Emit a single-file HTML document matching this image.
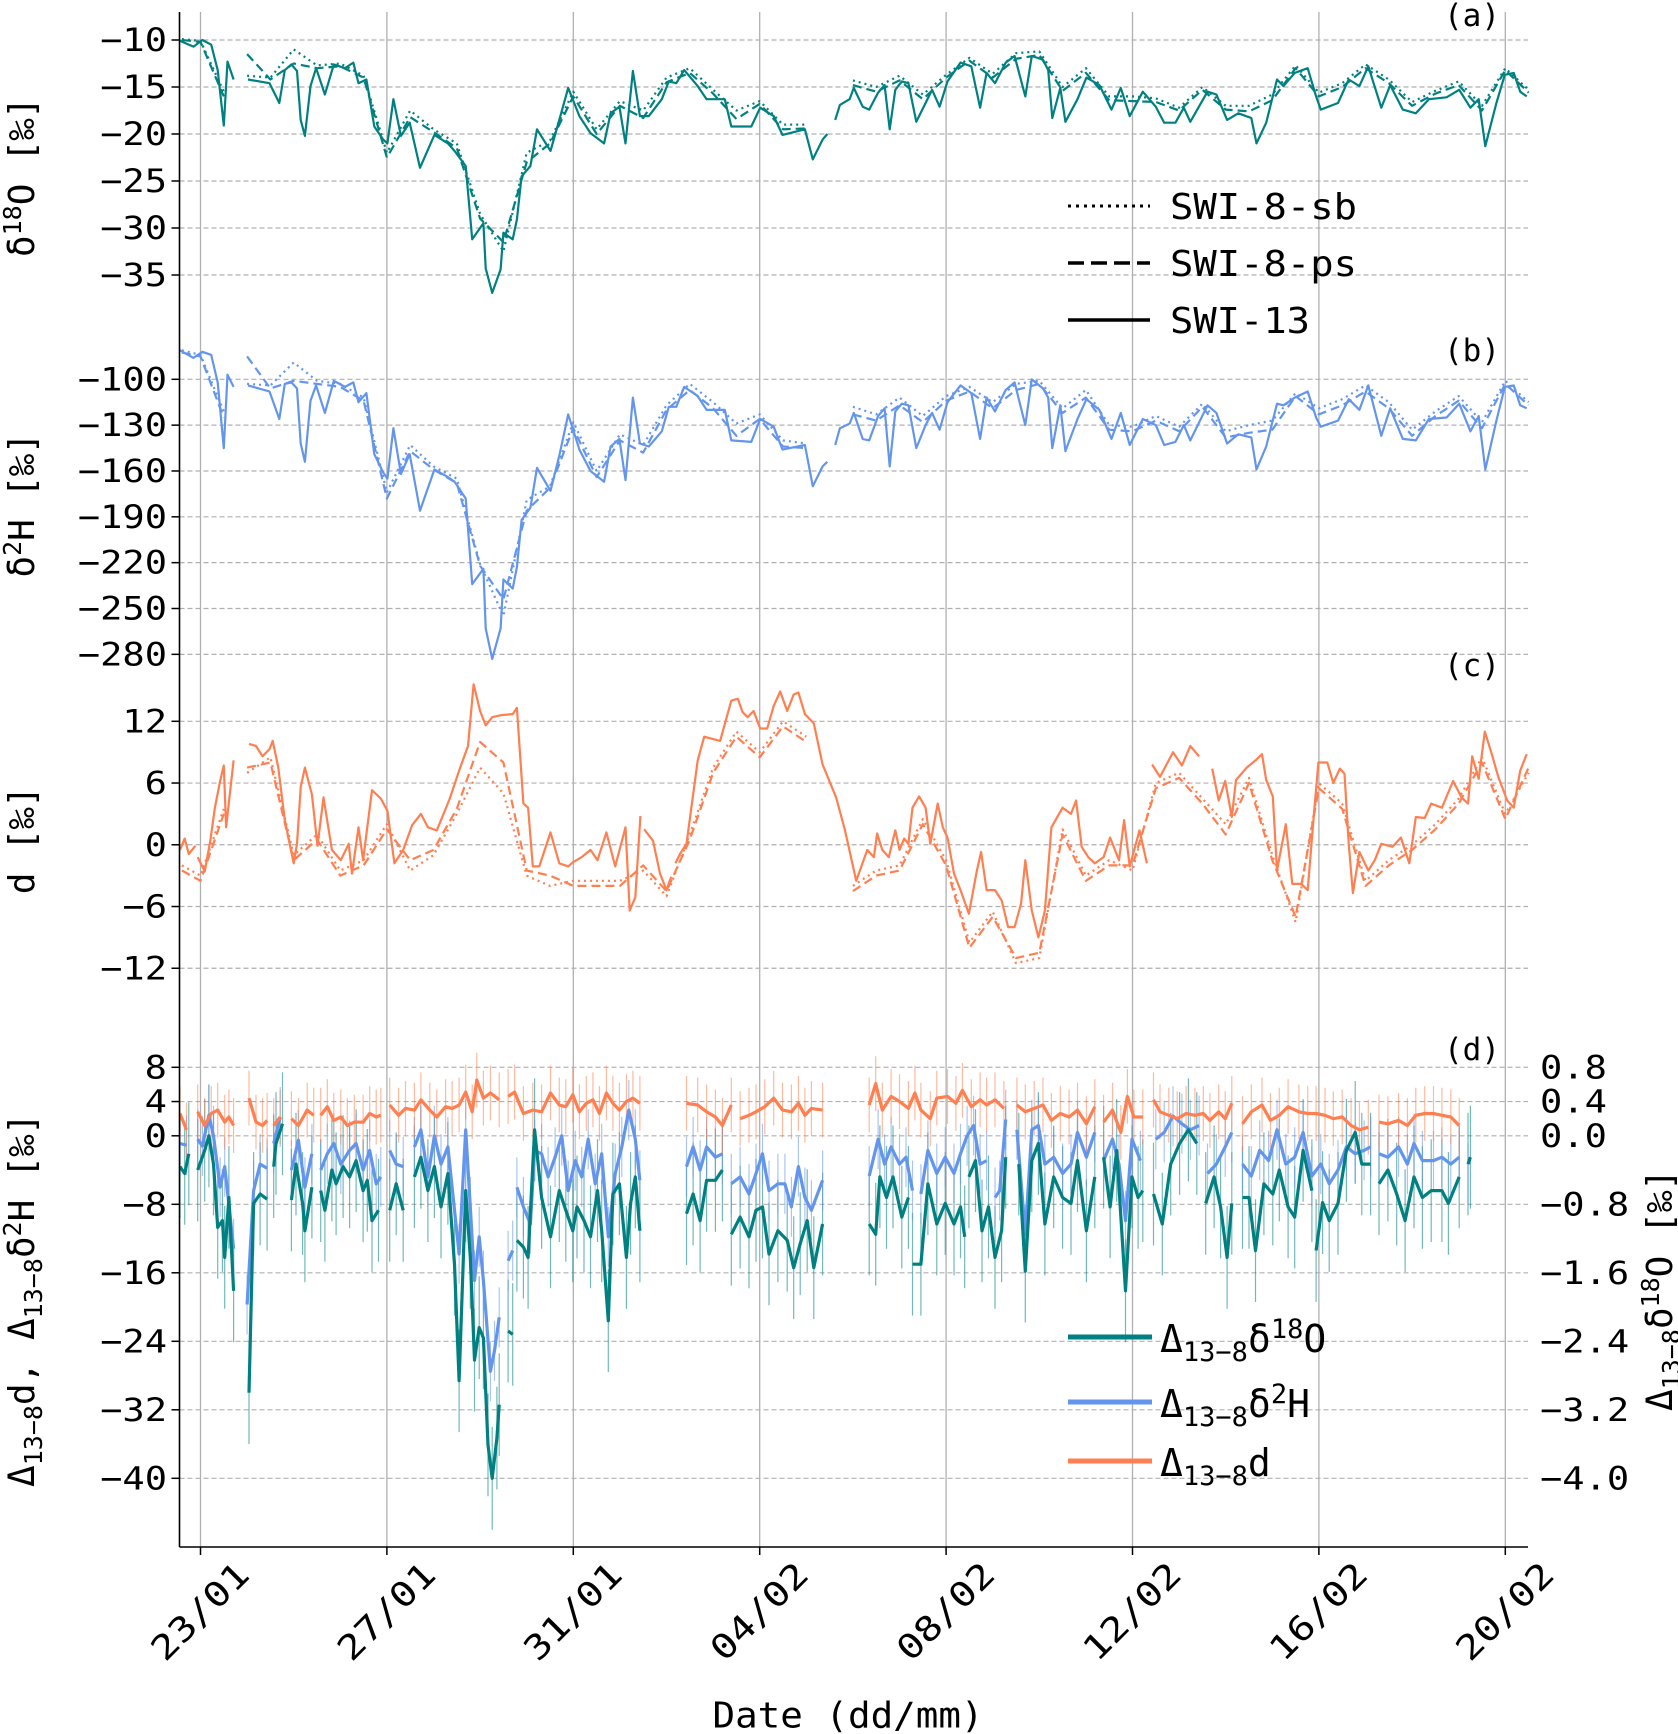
<!DOCTYPE html>
<html><head><meta charset="utf-8"><style>
html,body{margin:0;padding:0;background:#fff;}
svg{display:block;font-family:"DejaVu Sans Mono","Liberation Mono",monospace;}
</style></head><body>
<svg id="fig" width="1678" height="1734" viewBox="0 0 1678 1734" xmlns="http://www.w3.org/2000/svg">
<g id="grid"></g>
<g id="marks"></g>
<g id="axes"></g>
<g id="legA">
 <line x1="1068" y1="206" x2="1150" y2="206" stroke="#000" stroke-width="3" stroke-dasharray="3,5"/>
 <text x="1170" y="219" font-size="36" textLength="187" lengthAdjust="spacingAndGlyphs">SWI-8-sb</text>
 <line x1="1068" y1="263" x2="1150" y2="263" stroke="#000" stroke-width="3.5" stroke-dasharray="16,7"/>
 <text x="1170" y="276" font-size="36" textLength="187" lengthAdjust="spacingAndGlyphs">SWI-8-ps</text>
 <line x1="1068" y1="320" x2="1150" y2="320" stroke="#000" stroke-width="3.5"/>
 <text x="1170" y="333" font-size="36" textLength="140" lengthAdjust="spacingAndGlyphs">SWI-13</text>
</g>
<g id="legD">
 <line x1="1068" y1="1337" x2="1152" y2="1337" stroke="#008080" stroke-width="5"/>
 <text x="1160" y="1352" font-size="38">Δ<tspan font-size="27" dy="9">13−8</tspan><tspan dy="-9">δ</tspan><tspan font-size="27" dy="-14">18</tspan><tspan dy="14">O</tspan></text>
 <line x1="1068" y1="1402" x2="1152" y2="1402" stroke="#6495ED" stroke-width="5"/>
 <text x="1160" y="1417" font-size="38">Δ<tspan font-size="27" dy="9">13−8</tspan><tspan dy="-9">δ</tspan><tspan font-size="27" dy="-14">2</tspan><tspan dy="14">H</tspan></text>
 <line x1="1068" y1="1461" x2="1152" y2="1461" stroke="#FF7F50" stroke-width="5"/>
 <text x="1160" y="1476" font-size="38">Δ<tspan font-size="27" dy="9">13−8</tspan><tspan dy="-9">d</tspan></text>
</g>
</svg>
<script>
// ---------- DATA (days since 23/01) ----------
const xTickDays = [0,4,8,12,16,20,24,28];
const xTickLabels = ["23/01","27/01","31/01","04/02","08/02","12/02","16/02","20/02"];
const ticksA = [-10,-15,-20,-25,-30,-35];
const ticksB = [-100,-130,-160,-190,-220,-250,-280];
const ticksC = [12,6,0,-6,-12];
const ticksD = [8,4,0,-8,-16,-24,-32,-40];
const ticksDRight = [0.8,0.4,0.0,-0.8,-1.6,-2.4,-3.2,-4.0];

const tA13 = [-0.44,-0.15,0.04,0.23,0.37,0.50,0.58,0.71,0.85,1.02,1.48,1.69,1.81,1.95,2.07,2.15,2.24,2.36,2.48,2.67,2.86,3.10,3.28,3.39,3.56,3.73,3.92,4.01,4.14,4.30,4.49,4.71,5.02,5.31,5.45,5.69,5.83,6.07,6.12,6.26,6.44,6.50,6.70,6.79,6.89,7.08,7.22,7.51,7.70,7.89,8.13,8.37,8.66,8.80,8.99,9.12,9.28,9.43,9.62,9.90,10.05,10.21,10.38,10.67,10.86,11.25,11.39,11.82,12.01,12.30,12.49,12.97,13.14,13.35,13.45,13.55,13.62,13.72,13.93,14.02,14.21,14.35,14.54,14.68,14.79,14.91,15.05,15.19,15.36,15.56,15.70,15.86,16.03,16.31,16.54,16.73,16.87,17.05,17.28,17.47,17.70,17.84,18.08,18.19,18.28,18.45,18.56,18.82,19.01,19.29,19.55,19.75,19.94,20.22,20.50,20.68,20.92,21.10,21.24,21.61,21.80,22.03,22.27,22.55,22.66,22.87,23.10,23.24,23.48,23.76,23.94,24.04,24.41,24.64,24.87,25.06,25.34,25.53,25.80,26.08,26.36,26.74,27.01,27.25,27.43,27.57,27.81,27.99,28.18,28.32,28.46];
const vA13 = [-10.1,-10.7,-10,-10.5,-13.2,-19.1,-12.3,-14.2,null,-14.2,-14.6,-16.7,-13.2,-12.6,-13.3,-18.5,-20.2,-14.9,-13,-15.8,-12.6,-13,-12.4,-14.6,-14.2,-19.2,-20.6,-21,-16.3,-20.2,-18.8,-23.6,-20.1,-21,-21.8,-23.4,-31.2,-29.5,-34.3,-36.9,-34.4,-30.5,-31.2,-29.1,-24.5,-23.4,-19.5,-21.8,-18.5,-15.1,-18.1,-19.9,-21,-17.8,-17.1,-21,-13.3,-18.1,-18.1,-16.3,-14.4,-14.6,-13.2,-14.9,-16.3,-16.3,-19.2,-19.2,-17.2,-18.1,-20.1,-19.5,-22.7,-20.6,-20,null,-18.5,-16.9,-16.3,-15.1,-17.1,-17.4,-15.6,-14.8,-19.5,-15.3,-14.4,-14.6,-18.7,-16.7,-15.3,-17.1,-14.4,-12.4,-12.8,-17.2,-13.5,-14.6,-12.4,-11.7,-16.0,-11.7,-12.1,-13.2,-18.3,-15.1,-18.7,-16.3,-14.0,-14.8,-17.4,-15.1,-18.1,-15.5,-17.1,-18.8,-18.8,-17.2,-18.7,-15.5,-15.8,-18.5,-17.8,-18.3,-21,-18.8,-14.2,-14.9,-13.5,-13,-16,-17.4,-16.7,-14.2,-14.9,-12.8,-17.2,-14.8,-17.4,-17.8,-16.3,-16.1,-15.3,-17.2,-16.3,-21.3,-16.7,-13.7,-13.5,-15.5,-16.0];
const vB13 = [-81,-86,-82,-84,-102,-145,-97,-105,null,-104,-108,-126,-103,-102,-106,-142,-154,-114,-104,-122,-101,-105,-102,-115,-109,-149,-161,-165,-132,-162,-149,-186,-159,-164,-167,-178,-234,-224,-263,-283,-263,-231,-237,-223,-192,-184,-158,-173,-150,-123,-146,-160,-167,-144,-139,-166,-112,-142,-144,-134,-118,-118,-105,-111,-120,-120,-140,-141,-126,-131,-146,-143,-170,-157,-154,null,-143,-132,-129,-122,-139,-140,-124,-119,-157,-121,-116,-117,-145,-130,-122,-133,-115,-104,-109,-139,-112,-121,-107,-102,-130,-100,-106,-112,-145,-117,-147,-126,-113,-120,-139,-122,-143,-126,-130,-143,-141,-130,-140,-117,-122,-142,-136,-138,-159,-144,-116,-117,-112,-108,-125,-131,-127,-113,-120,-104,-137,-119,-139,-140,-126,-125,-116,-134,-124,-159,-127,-105,-104,-117,-119];

const t8 = [-0.4,0,0.5,0.8,1.0,1.5,2,2.5,3,3.5,4,4.5,5,5.5,6,6.5,7,7.5,8,8.5,9,9.5,10,10.5,11,11.5,12,12.5,13,13.5,14,14.5,15,15.5,16,16.5,17,17.5,18,18.5,19,19.5,20,20.5,21,21.5,22,22.5,23,23.5,24,24.5,25,25.5,26,26.5,27,27.5,28,28.5];
const vA8ps = [-10.0,-10.2,-16,null,-11.5,-14.2,-12.5,-13,-12.8,-14,-22.5,-18.2,-19.8,-21.5,-29,-31.5,-23,-21,-16,-20,-17,-18.3,-14.5,-13.5,-15.7,-18.4,-16.8,-19.5,-19.4,null,-14.8,-15.5,-14.3,-16.3,-14,-12.2,-14,-12,-11.6,-15.4,-13.5,-16.4,-16.5,-16.6,-17.5,-15.3,-17.4,-17.6,-16.4,-13,-16,-15,-13,-14.6,-17,-15.7,-14.8,-17.5,-13.2,-15.6];
const vA8sb = [-9.9,-10.1,-15.5,null,-13.8,-14,-11,-12.7,-12.5,-13.8,-22,-17.5,-19.5,-21,-28.5,-32.5,-22,-20.7,-15.5,-19.5,-16.5,-17.5,-14,-13,-15.3,-17.5,-16.5,-19,-19,null,-14.3,-15,-13.8,-15.8,-13.7,-11.9,-13.6,-11.4,-11.2,-15,-13,-16,-16,-16.2,-17.2,-15,-17,-17,-15.8,-12.7,-15.6,-14.6,-12.6,-14.2,-16.6,-15.4,-14.4,-17,-13,-15.3];
const vB8ps = [-82.5,-85,-125,null,-85,-106,-101,-103,-105,-114,-178,-147,-159,-168,-222,-244,-186,-171,-132,-164,-140,-148,-120,-107,-119,-137,-126,-144,-145,null,-123,-127,-117,-128,-114,-108,-119,-107,-103,-122,-112,-133,-134,-127,-134,-118,-138,-135,-133,-111,-123,-117,-108,-119,-137,-124,-114,-132,-103,-117];
const vB8sb = [-81,-84,-121,null,-103,-104,-89,-101,-103,-112,-174,-143,-157,-165,-221,-255,-179,-170,-128,-160,-136,-143,-117,-103,-115,-129,-123,-140,-142,null,-118,-123,-112,-124,-111,-105,-115,-103,-101,-119,-107,-130,-131,-124,-131,-116,-134,-130,-127,-109,-119,-113,-104,-115,-133,-121,-111,-128,-101,-115];
const vC8ps = [-2.5,-3.5,3,null,7.5,8,-1.5,0.5,-3,-2,1.5,-1.5,-0.5,3.5,10,8,-2.5,-3,-4,-4,-4,-2,-4.5,0.5,7,10.5,8.5,11.5,10,null,-4.5,-3,-2.5,2,-2,-10,-7,-11,-10.5,1,-3.5,-2,-2,5.5,6.5,4,1,6,-1.5,-7,5.5,3.5,-4,-2,-0.5,1.5,4,8,2.5,7.5];
const vC8sb = [-2,-3,3.5,null,7,8.5,-1,1,-2.5,-1.5,2,-2.5,-1,3,7.5,5,-3,-4,-3.5,-3.5,-3.5,-2.5,-5,1,7.5,11,9,12,10.5,null,-4,-2.5,-2,2.5,-1.5,-9.5,-6.5,-11.5,-11,1.5,-3,-1.5,-2.5,6,7,4.5,2,6.5,-1,-7.5,6,4,-3.5,-1.5,0,2,4.5,8.5,3,7];

const tC13 = [-0.44,-0.34,-0.25,-0.11,-0.08,-0.06,0.09,0.21,0.31,0.42,0.50,0.55,0.71,0.85,1.04,1.19,1.33,1.48,1.55,1.67,1.81,2.0,2.07,2.15,2.24,2.39,2.51,2.64,2.82,3.01,3.18,3.25,3.39,3.49,3.68,3.87,4.01,4.16,4.35,4.54,4.73,4.88,5.07,5.35,5.55,5.74,5.86,6.0,6.12,6.26,6.46,6.70,6.79,6.93,7.03,7.13,7.27,7.51,7.70,7.89,7.99,8.18,8.37,8.52,8.71,8.90,9.12,9.21,9.33,9.44,9.48,9.52,9.71,9.86,10.0,10.10,10.15,10.19,10.29,10.43,10.67,10.81,11.15,11.39,11.53,11.63,11.74,11.87,12.01,12.16,12.30,12.44,12.59,12.73,12.83,12.97,13.16,13.35,13.64,13.83,14.07,14.31,14.45,14.52,14.63,14.77,14.91,15.0,15.10,15.19,15.28,15.42,15.56,15.66,15.82,15.93,16.03,16.17,16.31,16.49,16.66,16.75,16.87,17.05,17.19,17.33,17.47,17.61,17.70,17.84,17.98,18.12,18.26,18.50,18.68,18.79,18.91,19.05,19.19,19.38,19.52,19.71,19.82,19.94,20.15,20.31,20.37,20.42,20.59,20.87,21.06,21.24,21.43,21.5,21.71,21.85,21.99,22.13,22.22,22.45,22.64,22.78,22.87,23.01,23.10,23.29,23.43,23.62,23.76,23.90,23.99,24.18,24.31,24.45,24.55,24.64,24.73,24.87,25.06,25.20,25.34,25.58,25.76,25.94,26.08,26.27,26.41,26.64,26.88,27.06,27.20,27.29,27.43,27.56,27.71,27.85,28.04,28.18,28.32,28.46];
const vC13 = [-0.5,0.6,-0.9,-0.1,null,-1.2,-2.6,0.4,3.6,6.2,7.7,1.7,8.2,null,9.8,9.6,8.6,9.3,10.1,7.5,2.4,-1.8,0.1,5.6,7.5,4.9,-0.1,4.6,-0.5,-1.5,0.1,-2.8,1.7,-1.5,5.3,4.5,3.3,-1.8,-0.5,1.9,3.0,1.7,1.4,4.5,7.2,9.6,15.6,13,11.6,12.4,12.6,12.7,13.3,4,3.6,-2.1,-2.1,1.2,-1.8,-2.1,-1.7,-1.2,-0.5,-1.5,1.2,-2.1,1.7,-6.4,-5.1,2.8,null,1.5,0.4,-2.8,-4.4,-3.1,null,-1.8,-0.9,0.1,8.2,10.5,10.1,14,14.2,12.9,12.4,13,11.3,11.3,13.5,14.9,13,14.6,14.8,12.7,11.8,7.8,4.6,1.4,-3.5,-0.5,-1.2,1.1,-0.5,-1.2,1.4,-0.5,0.6,0.1,3.6,4.7,3.6,0.1,4,1.7,0.7,-2.8,-4.4,-6.7,-2.5,-0.7,-4.4,-4.4,-5.4,-8,-8,-5.7,-1.5,-6.4,-9,-6.4,1.7,3.6,3.0,4.3,-0.2,-1.2,-1.8,-1.2,0.7,-1.5,2.4,-2.1,1.4,-1.8,null,7.8,6.6,9,7.7,9.6,8.6,null,7.4,4.3,6.2,2.7,6.3,7.5,8.2,8.8,6.3,4.7,-2.5,2.0,-3.8,-3.8,-4.4,3.3,8.0,8.0,6.0,7.4,6.9,0.1,-4.7,-0.7,-2.5,-1.5,0.1,-0.2,0.7,-1.8,2.7,2.6,4,3.6,6.2,4.6,4,8.6,6.4,11,8.8,6.6,4.3,3.6,7.2,8.8];

const tDd = [-0.44,-0.30,-0.1,-0.06,0.09,0.23,0.37,0.52,0.61,0.71,0.9,1.04,1.19,1.33,1.43,1.5,1.57,1.71,1.85,1.95,2.10,2.29,2.43,2.5,2.58,2.72,2.86,3.01,3.15,3.30,3.49,3.63,3.77,3.87,3.95,4.06,4.25,4.40,4.59,4.73,4.92,5.07,5.26,5.40,5.55,5.69,5.83,5.93,6.07,6.22,6.41,6.5,6.60,6.74,6.93,7.13,7.32,7.51,7.70,7.84,7.99,8.13,8.28,8.42,8.56,8.71,8.85,8.99,9.14,9.28,9.43,9.5,10.43,10.67,10.86,11.05,11.20,11.39,11.48,11.58,11.77,11.92,12.11,12.30,12.49,12.68,12.83,12.97,13.11,13.35,13.5,14.35,14.49,14.63,14.82,15.0,15.19,15.33,15.46,15.66,15.80,16.03,16.21,16.35,16.54,16.73,16.87,17.05,17.24,17.38,17.52,17.70,17.89,18.08,18.26,18.45,18.64,18.82,19.01,19.19,19.28,19.38,19.57,19.75,19.89,20.03,20.22,20.33,20.45,20.59,20.78,20.96,21.15,21.34,21.52,21.66,21.85,21.99,22.13,22.25,22.36,22.55,22.78,22.96,23.15,23.34,23.57,23.76,23.94,24.13,24.31,24.50,24.69,24.87,25.06,25.18,25.29,25.48,25.71,25.90,26.08,26.27,26.46,26.64,26.83,27.01];
const vDd = [2.6,0.7,null,2.8,1.2,2.6,3.0,1.6,2.2,1.2,null,4.4,1.6,1.2,1.8,null,1.2,2.2,null,2,1.2,3,2.4,null,2.4,3.4,1.8,2.2,1.2,1.6,1.6,2.6,2.2,2.4,null,3.6,2.4,3.2,3,4.2,3,2.2,3.4,3.2,3.6,5.1,2.8,6.5,4.4,5,4.2,null,4.6,5.1,2.6,3,2.8,5,3.6,3.4,4.8,2.8,3.8,4.2,2.6,5,3.8,3,4,4.4,3.8,null,3.8,3.6,2.8,2.2,1.2,3.6,null,2,2.4,2.8,3.4,4.4,3,2.8,3.8,2.4,3.2,3,null,3.6,6.1,3,4.6,4,3.2,5,3,2,4.4,4.6,3.8,5.3,3.4,4.2,3.6,4.2,3.2,null,3.6,2.8,3.2,3.6,1.8,2.6,2.2,3,1.4,3.4,null,1.6,3,0.4,4.6,2.2,2.2,null,4.2,2.8,2.4,2,2.6,2.4,2.6,1.8,2.8,2,3.8,null,1.4,2.8,3.6,1.8,2.4,3.4,2.8,2.6,2.6,2.4,2,2.2,1.2,0.7,1,null,1.6,1.4,1.8,1.2,2.4,2.6,2.6,2.4,2.2,1.2];

const tDh = [-0.44,-0.30,-0.1,-0.06,0.04,0.18,0.28,0.42,0.52,0.61,0.71,0.85,1.0,1.14,1.28,1.43,1.5,1.57,1.71,1.85,1.95,2.10,2.24,2.39,2.5,2.58,2.72,2.86,3.01,3.20,3.34,3.49,3.63,3.77,3.87,3.95,4.06,4.20,4.35,4.47,4.59,4.73,4.88,5.02,5.16,5.31,5.55,5.69,5.79,5.88,5.98,6.07,6.22,6.31,6.41,6.5,6.60,6.70,6.75,6.79,6.93,7.08,7.17,7.32,7.46,7.61,7.75,7.89,8.04,8.18,8.32,8.47,8.61,8.75,8.90,9.04,9.19,9.33,9.43,9.6,10.43,10.57,10.72,10.86,11.05,11.20,11.3,11.39,11.58,11.77,11.92,12.06,12.20,12.39,12.54,12.68,12.83,12.97,13.11,13.35,13.5,14.35,14.54,14.68,14.82,15.0,15.14,15.28,15.37,15.46,15.61,15.80,15.98,16.17,16.31,16.45,16.59,16.73,16.87,16.96,17.05,17.15,17.28,17.4,17.52,17.70,17.84,17.98,18.12,18.31,18.50,18.68,18.82,19.01,19.19,19.28,19.38,19.57,19.71,19.85,19.99,20.17,20.3,20.50,20.68,20.87,21.06,21.24,21.43,21.52,21.61,21.80,21.99,22.13,22.25,22.36,22.55,22.73,22.92,23.10,23.29,23.48,23.66,23.85,24.04,24.22,24.41,24.59,24.78,24.97,25.11,25.2,25.29,25.48,25.71,25.90,26.04,26.22,26.46,26.64,26.83,27.01,27.1,27.20];
const vDh = [-0.9,-1.1,null,-0.4,-1.2,2.4,0,-6,-3.6,-8,-13.2,null,-19.7,-6.4,-3.3,-3.8,null,-0.9,2.2,null,-4,-0.5,-6,-2.1,null,-4,-2.1,-0.9,-3.3,-1.7,-0.9,-4,-1.7,-5.6,-4.8,null,-1.7,-3.3,-3.6,null,-1.3,0.7,-4.8,0,-3.3,-1.3,-13.8,0.7,-8.3,-16.9,-11.8,-16.9,-27.5,-25.1,-21.2,null,-14.6,-13.4,null,-6,-8.3,-10.3,-1.7,-2.1,-4.8,-2.5,0,-6.4,-2.9,-4.8,-0.4,-5.6,-2.1,-11.8,-4.4,-1.3,3,-0.4,-5.2,null,-3.6,-1.3,-4,-1.3,-2.5,-2.1,null,-5.6,-4.8,-6.8,-4.4,-2.1,-6.4,-5.6,-5.6,-8.3,-3.6,-7.2,-8.7,-5.2,null,-4.7,-0.4,-3.3,-1.3,-3.3,-2.5,-6.4,null,-6.8,-1.7,-4.4,-2.5,-4.4,-2.1,0,1.2,-3.3,-2.9,null,-7.2,-6.4,1.9,null,0.7,-11.5,0.7,1.2,-3.3,-2.5,-4.4,-3.3,0.4,-2.5,0.4,null,-2.9,-0.4,-3.3,-9.9,-0.4,-2.9,null,-0.4,0.4,2.3,1.4,0.7,1.2,null,-4.4,-3.3,-1.3,0.4,null,-3.3,-4.7,-1.7,-2.9,0.7,-3.3,-2.5,0.4,-4.7,-3.3,-5.6,-4,-1.3,-2.1,-1.7,-1.3,null,-2.1,-2.5,-1.3,-3.3,-0.9,-2.9,-2.9,-2.5,-3.3,-2.5,null,-4.4];

const tDo = [-0.44,-0.34,-0.25,-0.1,-0.06,0.09,0.18,0.28,0.37,0.47,0.52,0.61,0.71,0.85,1.04,1.14,1.28,1.43,1.5,1.57,1.62,1.76,1.85,1.95,2.05,2.19,2.24,2.39,2.5,2.58,2.67,2.82,2.91,3.06,3.20,3.34,3.49,3.58,3.68,3.82,3.95,4.06,4.20,4.35,4.47,4.59,4.73,4.88,5.02,5.16,5.31,5.45,5.55,5.69,5.79,5.88,5.98,6.07,6.17,6.26,6.36,6.41,6.5,6.60,6.70,6.75,6.79,6.93,7.03,7.17,7.32,7.51,7.70,7.84,7.99,8.08,8.23,8.37,8.52,8.61,8.75,8.85,8.99,9.14,9.23,9.33,9.43,9.6,10.43,10.57,10.72,10.86,11.05,11.20,11.3,11.39,11.58,11.77,11.92,12.06,12.20,12.39,12.59,12.73,12.87,13.02,13.16,13.35,13.5,14.35,14.49,14.58,14.72,14.86,15.05,15.19,15.24,15.28,15.46,15.61,15.80,15.98,16.17,16.31,16.40,16.45,16.49,16.63,16.77,16.91,17.05,17.19,17.28,17.4,17.56,17.70,17.84,17.98,18.12,18.31,18.50,18.68,18.82,19.01,19.19,19.28,19.38,19.52,19.66,19.85,19.99,20.12,20.22,20.33,20.45,20.64,20.82,21.01,21.20,21.38,21.5,21.57,21.75,21.89,22.03,22.13,22.25,22.36,22.50,22.64,22.82,23.01,23.15,23.34,23.48,23.66,23.85,23.9,23.94,24.08,24.22,24.41,24.59,24.78,24.92,25.11,25.2,25.29,25.48,25.67,25.85,26.04,26.22,26.41,26.64,26.78,27.01,27.1,27.20,27.25];
const vDo = [-0.36,-0.44,-0.21,null,-0.40,-0.17,0,-0.33,-1.07,-0.99,-1.42,-0.72,-1.81,null,-3.0,-0.79,-0.68,-0.74,null,-0.36,-0.09,0.14,null,-0.75,-0.33,-0.79,-1.11,-0.60,null,-0.64,-0.87,-0.40,-0.56,-0.36,-0.48,-0.29,-0.64,-0.52,-0.99,-0.87,null,-0.87,-0.56,-0.87,null,-0.48,-0.25,-0.64,-0.36,-0.83,-0.44,-1.50,-2.86,-0.64,-1.42,-2.62,-2.24,-2.36,-3.61,-4.0,-3.53,-3.14,null,-2.28,-2.32,null,-1.22,-1.30,-1.42,0.07,-0.72,-1.18,-0.64,-0.87,-1.11,-0.83,-0.99,-1.18,-0.64,-1.11,-2.16,-0.68,-0.56,-1.42,-0.79,-0.48,-1.11,null,-0.91,-0.68,-0.99,-0.52,-0.52,-0.40,null,-1.15,-0.95,-1.18,-0.87,-0.83,-1.38,-1.11,-1.22,-1.54,-1.26,-0.99,-1.54,-1.03,null,-1.03,-1.15,-0.48,-0.72,-0.48,-0.95,-0.72,null,-1.50,-1.50,-0.56,-1.03,-0.79,-1.03,-0.83,-1.18,null,-0.48,-0.29,-1.11,-0.83,-1.42,-1.11,-0.25,null,-0.33,-1.58,-0.29,-0.09,-1.03,-0.48,-0.72,-0.79,-0.29,-1.11,-0.48,null,-0.25,-0.83,-0.17,-1.81,-0.48,-0.72,-0.64,null,-0.68,-1.03,-0.33,-0.09,0.07,-0.09,null,-0.79,-0.48,-0.83,-1.42,-0.79,null,-0.72,-0.72,-1.34,-0.56,-0.68,-0.40,-0.83,-0.95,-0.17,-0.64,null,-1.34,-0.78,-0.99,-0.79,-0.17,0.04,-0.33,-0.33,null,-0.56,-0.40,-0.68,-0.99,-0.48,-0.72,-0.64,-0.64,-0.79,-0.48,null,-0.33,-0.25];
const errDd = [3.2];
const errDh = [3.5];
const errDo = [0.6];

// ---------- SCALES ----------
const NS = "http://www.w3.org/2000/svg";
const X0 = 179.5, X1 = 1528, YT = 12, YB = 1547;
function xS(d){ return 200.5 + 46.6*d; }
function yA(v){ return 40 + (-10 - v)*9.4; }
function yB(v){ return 379.3 + (-100 - v)*1.528; }
function yC(v){ return 721.3 + (12 - v)*10.29; }
function yD(v){ return 1067.3 + (8 - v)*8.5625; }
function yDR(v){ return yD(v*10); }

function mk(tag, attrs, parent){
  const e = document.createElementNS(NS, tag);
  for (const k in attrs) e.setAttribute(k, attrs[k]);
  parent.appendChild(e);
  return e;
}
const grid = document.getElementById('grid');
const marks = document.getElementById('marks');
const axes = document.getElementById('axes');

xTickDays.forEach((d,i)=>{
  const x = xS(d);
  const g = mk('line',{x1:x,y1:YT,x2:x,y2:YB,stroke:'#b0b0b0','stroke-width':1.3},grid);
  
  
  const tk = mk('line',{x1:x,y1:YB,x2:x,y2:YB+8,stroke:'#000','stroke-width':1.5},axes);
  
  
  const t = mk('text',{x:x,y:1612,'font-size':34,'text-anchor':'middle','dominant-baseline':'central',
    textLength:122,lengthAdjust:'spacingAndGlyphs',transform:`rotate(-45 ${x} 1612)`},axes);
  t.textContent = xTickLabels[i];
  
  
});

function yTicks(ticks, yf){
  ticks.forEach((v)=>{
    const y = yf(v);
    const g = mk('line',{x1:X0,y1:y,x2:X1,y2:y,stroke:'#b0b0b0','stroke-width':1.2,'stroke-dasharray':'5,3'},grid);
    
    
    const tk = mk('line',{x1:X0-8,y1:y,x2:X0,y2:y,stroke:'#000','stroke-width':1.5},axes);
    
    
    const s = (v<0?'−':'') + String(Math.abs(v));
    const t = mk('text',{x:167,y:y,'font-size':32,'text-anchor':'end','dominant-baseline':'central',
      textLength:s.length*22.3,lengthAdjust:'spacingAndGlyphs'},axes);
    t.textContent = s;
    
    
  });
}
yTicks(ticksA, yA);
yTicks(ticksB, yB);
yTicks(ticksC, yC);
yTicks(ticksD, yD);
ticksDRight.forEach(v=>{
  const y = yDR(v);
  const s = (v<0?'−':'') + Math.abs(v).toFixed(1);
  const t = mk('text',{x:1540,y:y,'font-size':32,'text-anchor':'start','dominant-baseline':'central',
    textLength:s.length*22.3,lengthAdjust:'spacingAndGlyphs'},axes);
  t.textContent = s;
  
  
});

let sp = mk('line',{x1:X0,y1:YT,x2:X0,y2:YB,stroke:'#000','stroke-width':1.6},axes);


sp = mk('line',{x1:X0,y1:YB,x2:X1,y2:YB,stroke:'#000','stroke-width':1.6},axes);



function pathD(ts, vs, yf){
  let d = '', pen = false;
  for (let i=0;i<ts.length;i++){
    const v = vs[i];
    if (v===null || v===undefined){ pen=false; continue; }
    d += (pen?'L':'M') + xS(ts[i]).toFixed(1) + ',' + yf(v).toFixed(1);
    pen = true;
  }
  return d;
}
function line(ts, vs, yf, color, width, dash, name){
  const p = mk('path',{d:pathD(ts,vs,yf),fill:'none',stroke:color,'stroke-width':width,'stroke-linejoin':'round'},marks);
  if (dash) p.setAttribute('stroke-dasharray', dash);
  
  
}
function errbars(ts, vs, yf, err, color, name){
  let d='';
  for (let i=0;i<ts.length;i++){
    const v = vs[i]; if (v===null) continue;
    const x = xS(ts[i]).toFixed(1);
    d += `M${x},${yf(v+err[0]).toFixed(1)}L${x},${yf(v-err[0]).toFixed(1)}`;
  }
  const p = mk('path',{d:d,stroke:color,'stroke-width':1.2,'stroke-opacity':0.55,fill:'none'},marks);
  
  
}
const TEAL='#008080', BLUE='#6495ED', ORANGE='#FF7F50';
line(t8, vA8sb, yA, TEAL, 2.2, '2,4', 'd18o-swi8sb-line');
line(t8, vA8ps, yA, TEAL, 2.2, '9,5', 'd18o-swi8ps-line');
line(tA13, vA13, yA, TEAL, 2.2, null, 'd18o-swi13-line');
line(t8, vB8sb, yB, BLUE, 2.2, '2,4', 'd2h-swi8sb-line');
line(t8, vB8ps, yB, BLUE, 2.2, '9,5', 'd2h-swi8ps-line');
line(tA13, vB13, yB, BLUE, 2.2, null, 'd2h-swi13-line');
line(t8, vC8sb, yC, ORANGE, 2.2, '2,4', 'dexcess-swi8sb-line');
line(t8, vC8ps, yC, ORANGE, 2.2, '9,5', 'dexcess-swi8ps-line');
line(tC13, vC13, yC, ORANGE, 2.2, null, 'dexcess-swi13-line');
errbars(tDo, vDo, yDR, errDo, TEAL, 'delta-d18o-errorbars');
errbars(tDh, vDh, yD, errDh, BLUE, 'delta-d2h-errorbars');
errbars(tDd, vDd, yD, errDd, ORANGE, 'delta-d-errorbars');
line(tDh, vDh, yD, BLUE, 3.2, null, 'delta-d2h-line');
line(tDo, vDo, yDR, TEAL, 3.2, null, 'delta-d18o-line');
line(tDd, vDd, yD, ORANGE, 3.2, null, 'delta-d-line');

function txt(html, attrs, name){
  const t = mk('text', attrs, axes);
  t.innerHTML = html;
  
  
  return t;
}
txt('(a)',{x:1500,y:16,'font-size':31,'text-anchor':'end','dominant-baseline':'central'},'panel-label-a');
txt('(b)',{x:1500,y:351,'font-size':31,'text-anchor':'end','dominant-baseline':'central'},'panel-label-b');
txt('(c)',{x:1500,y:666,'font-size':31,'text-anchor':'end','dominant-baseline':'central'},'panel-label-c');
txt('(d)',{x:1500,y:1050,'font-size':31,'text-anchor':'end','dominant-baseline':'central'},'panel-label-d');
txt('Date (dd/mm)',{x:848,y:1716,'font-size':36,'text-anchor':'middle','dominant-baseline':'central',textLength:271,lengthAdjust:'spacingAndGlyphs'},'x-axis-title');
txt('δ<tspan font-size="25" dy="-13">18</tspan><tspan dy="13">O [‰]</tspan>',{x:0,y:0,'font-size':36,'text-anchor':'middle',transform:'translate(34 177) rotate(-90)'},'y-axis-title-a');
txt('δ<tspan font-size="25" dy="-13">2</tspan><tspan dy="13">H [‰]</tspan>',{x:0,y:0,'font-size':36,'text-anchor':'middle',transform:'translate(34 505) rotate(-90)'},'y-axis-title-b');
txt('d [‰]',{x:0,y:0,'font-size':36,'text-anchor':'middle',transform:'translate(34 840) rotate(-90)'},'y-axis-title-c');
txt('Δ<tspan font-size="25" dy="8">13−8</tspan><tspan dy="-8">d, Δ</tspan><tspan font-size="25" dy="8">13−8</tspan><tspan dy="-8">δ</tspan><tspan font-size="25" dy="-13">2</tspan><tspan dy="13">H [‰]</tspan>',{x:0,y:0,'font-size':36,'text-anchor':'middle',transform:'translate(34 1300) rotate(-90)'},'y-axis-title-d');
txt('Δ<tspan font-size="25" dy="8">13−8</tspan><tspan dy="-8">δ</tspan><tspan font-size="25" dy="-13">18</tspan><tspan dy="13">O [‰]</tspan>',{x:0,y:0,'font-size':36,'text-anchor':'middle',transform:'translate(1672 1290) rotate(-90)'},'right-y-axis-title-d');
</script>
</body></html>
